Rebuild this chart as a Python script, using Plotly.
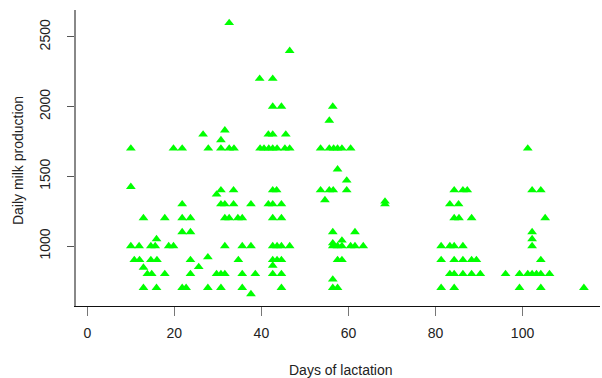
import plotly.graph_objects as go

# Days of lactation (x) and daily milk production (y)
days = [
    10, 19.8, 21.8, 10, 21.8, 12.9, 17.8, 21.8, 23.7, 21.8, 23.7,
    10, 11.9, 14.6, 15.6, 15.9, 18.7, 19.8, 10.8, 12, 14.6, 16, 23.7,
    12.9, 13.8, 14.8, 17.8, 23.7, 12.9, 15.9, 21.8, 22.7,
    32.6, 46.5, 39.6, 42.6, 42.6, 44.6, 26.6, 31.6, 30.7, 41.6, 42.6, 45.6,
    27.8, 30.7, 32.6, 33.7, 39.7, 40.6, 41.7, 42.6, 43.6, 45.4, 46.5,
    30.7, 29.7, 33.6, 42.6, 43.5,
    30.7, 31.6, 33.6, 37.6, 41.6, 42.6, 44.6,
    31.6, 32.6, 34.6, 35.6, 42.6, 44.6,
    31.6, 35.6, 37.6, 42.6, 43.6, 44.6, 46.5,
    27.7, 34.7, 42.6, 43.6, 44.6, 42.6, 25.6,
    29.7, 30.7, 31.6, 35.6, 38.6, 42.6, 44.6,
    27.7, 30.7, 35.6, 44.6, 37.6,
    56.4, 55.6, 53.6, 55.6, 56.6, 57.5, 58.5, 60.5, 57.5, 59.6,
    53.6, 55.6, 56.5, 59.6, 54.6, 68.4, 68.4, 56.4, 61.5,
    56.4, 57.5, 58.5, 60.5, 61.5, 63.4, 56.4, 58.5,
    57.5, 58.5, 56.4, 56.4, 57.5,
    84.3, 86.3, 87.3, 83.3, 85.3, 84.3, 85.4, 88.3,
    81.3, 83.3, 84.3, 86.3, 81.3, 84.3, 86.3, 88.3, 89.4,
    83.3, 84.3, 86.3, 88.3, 90.3, 81.3, 84.3,
    101.2, 102.2, 104.2, 105.2, 102.2, 102.2, 102.2, 104.2,
    96.1, 99.3, 101.2, 102.2, 103.2, 104.2, 106.2, 99.3, 104.2, 114.1,
]
milk = [
    1700, 1700, 1700, 1425, 1300, 1200, 1200, 1200, 1200, 1100, 1100,
    1000, 1000, 1000, 1000, 1050, 1000, 1000, 900, 900, 900, 900, 900,
    845, 800, 800, 800, 800, 700, 700, 700, 700,
    2600, 2400, 2200, 2200, 2000, 2000, 1800, 1830, 1760, 1800, 1800, 1800,
    1700, 1700, 1700, 1700, 1700, 1700, 1700, 1700, 1700, 1700, 1700,
    1400, 1370, 1400, 1400, 1400,
    1300, 1300, 1300, 1300, 1300, 1300, 1300,
    1200, 1200, 1200, 1200, 1200, 1200,
    1000, 1000, 1000, 1000, 1000, 1000, 1000,
    920, 900, 900, 900, 900, 860, 850,
    800, 800, 800, 800, 800, 800, 800,
    700, 700, 700, 700, 655,
    2000, 1900, 1700, 1700, 1700, 1700, 1700, 1700, 1550, 1470,
    1400, 1400, 1400, 1400, 1330, 1300, 1320, 1100, 1100,
    1000, 1000, 1000, 1000, 1000, 1000, 1020, 1040,
    900, 900, 760, 700, 700,
    1400, 1400, 1400, 1300, 1300, 1200, 1200, 1200,
    1000, 1000, 1000, 1000, 900, 900, 900, 900, 900,
    800, 800, 800, 800, 800, 700, 700,
    1700, 1400, 1400, 1200, 1100, 1050, 1000, 900,
    800, 800, 800, 800, 800, 800, 800, 700, 700, 700,
]
x_ticks = [0, 20, 40, 60, 80, 100]
y_ticks = [1000, 1500, 2000, 2500]

FONT = "Liberation Sans, Arial, sans-serif"

fig = go.Figure()
fig.add_trace(go.Scatter(
    x=days, y=milk, mode="markers",
    marker=dict(symbol="triangle-up", size=8.5, color="#00ff00", line=dict(width=0)),
    showlegend=False, hoverinfo="x+y",
))

fig.update_layout(
    width=602, height=378,
    margin=dict(l=76, r=2, t=10, b=72),
    paper_bgcolor="white", plot_bgcolor="white",
    font=dict(family=FONT, size=14, color="#222222"),
    xaxis=dict(
        range=[-2.6, 117.8], tickvals=x_ticks, ticktext=[str(v) for v in x_ticks],
        showgrid=False, zeroline=False, automargin=False,
        showline=True, linecolor="#111111", linewidth=1.2,
        ticks="outside", ticklen=9, tickcolor="#777777", tickwidth=1.2,
        ticklabelstandoff=5,
        tickfont=dict(family=FONT, size=14, color="#222222"),
    ),
    yaxis=dict(
        range=[569.6, 2693], tickvals=y_ticks, ticktext=[str(v) for v in y_ticks],
        showgrid=False, zeroline=False, automargin=False,
        showline=True, linecolor="#888888", linewidth=1.5,
        ticks="outside", ticklen=7, tickcolor="#555555", tickwidth=1.2,
        tickangle=-90, ticklabelstandoff=12,
        tickfont=dict(family=FONT, size=14, color="#222222"),
    ),
    annotations=[
        dict(text="Days of lactation", xref="paper", yref="paper",
             x=0.506, y=-0.216, xanchor="center", yanchor="middle",
             showarrow=False, font=dict(family=FONT, size=14, color="#222222")),
        dict(text="Daily milk production", xref="paper", yref="paper",
             x=-0.1107, y=0.493, xanchor="center", yanchor="middle", textangle=-90,
             showarrow=False, font=dict(family=FONT, size=14, color="#222222")),
    ],
)

fig.write_html("out.html", config={"displayModeBar": False},
               post_script="document.body.style.margin='0';")
